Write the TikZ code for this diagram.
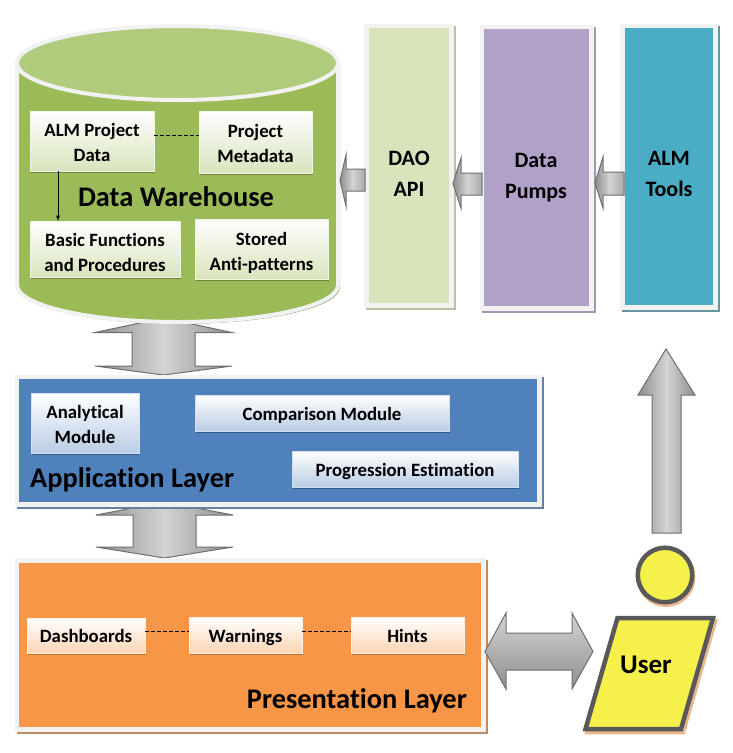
\documentclass[tikz,border=0pt]{standalone}
\usepackage{fontspec}
\setmainfont{Carlito}[BoldFont={Carlito Bold},Ligatures=NoCommon]
\usetikzlibrary{shadows}
\definecolor{cylgreen}{HTML}{9BBB59}
\definecolor{cyltop}{HTML}{B0CB7B}
\definecolor{paledge}{HTML}{F2F2F2}
\definecolor{daofill}{HTML}{D8E4BC}
\definecolor{pumpfill}{HTML}{B1A0C7}
\definecolor{almfill}{HTML}{4BACC6}
\definecolor{appfill}{HTML}{4F81BD}
\definecolor{presfill}{HTML}{F79646}
\definecolor{useryellow}{HTML}{F5F04A}
\definecolor{arrowedge}{HTML}{6E6E6E}
\definecolor{arrowdark}{HTML}{8E8E8E}
\definecolor{arrowlight}{HTML}{D4D4D4}
\definecolor{arrowmid}{HTML}{A8A8A8}
\definecolor{usershadow}{HTML}{E9B78E}
\def\bxoff{2}
\newcommand{\bx}[7]{%
  \pgfmathsetmacro{\bxw}{#4-#2}\pgfmathsetmacro{\bxh}{#5-#3}%
  \pgfmathsetmacro{\bxx}{(#2+#4)/2}\pgfmathsetmacro{\bxy}{(#3+#5)/2}%
  \pgfmathsetmacro{\bxt}{\bxy+\bxoff}%
  \node[#6,minimum width=\bxw pt,minimum height=\bxh pt] (#1) at (\bxx,\bxy) {};
  \node[boxtext] (#1t) at (\bxx,\bxt) {#7};}
\tikzset{
  x=1pt,y=-1pt,
  basebox/.style={rectangle,inner sep=0pt,outer sep=0pt},
  boxtext/.style={inner sep=0pt,align=center,font=\bfseries\fontsize{18.8}{25}\selectfont,
    execute at begin node=\strut,execute at end node=\strut},
  panel/.style={basebox,fill=#1,draw=paledge,line width=4.5pt},
  panelshadow/.style={general shadow={shadow xshift=2pt,shadow yshift=-2pt,fill=#1,draw=#1,line width=4.5pt}},
  greenbox/.style={basebox,draw=white!85!cylgreen,line width=.8pt,top color=white,bottom color=daofill,
    general shadow={shadow xshift=1pt,shadow yshift=-2pt,fill=cylgreen!70!black}},
  bluebox/.style={basebox,draw=appfill!25!white,line width=.8pt,top color=white,bottom color=appfill!40!white,
    general shadow={shadow xshift=1pt,shadow yshift=-2pt,fill=appfill!70!black}},
  orangebox/.style={basebox,draw=presfill!15!white,line width=.8pt,top color=white,bottom color=presfill!40!white,
    general shadow={shadow xshift=1pt,shadow yshift=-2pt,fill=presfill!75!black}},
  bigtext/.style={inner sep=0pt,font=\bfseries\fontsize{28.4}{32}\selectfont},
  usertext/.style={inner sep=0pt,font=\bfseries\fontsize{27}{32}\selectfont},
  tall/.style={inner sep=0pt,align=center,font=\bfseries\fontsize{22}{31}\selectfont},
  linkline/.style={black,line width=.7pt,dash pattern=on 3.5pt off 2.5pt},
  vgrad/.style={draw=arrowedge,line width=1pt,left color=arrowdark,right color=arrowdark,middle color=arrowlight},
  hgrad/.style={draw=arrowedge,line width=1pt,top color=arrowlight,bottom color=arrowdark},
  smallgrad/.style={draw=arrowedge,line width=1pt,left color=arrowdark,right color=arrowmid,middle color=arrowlight},
}
\begin{document}
\begin{tikzpicture}
\useasboundingbox (0,0) rectangle (733,753);
% arrows that pass behind their layers
\path[vgrad] (163.5,318) -- (232,332.5) -- (195,332.5) -- (195,366) -- (232,366) -- (163.5,375) -- (95,366) -- (132,366) -- (132,332.5) -- (95,332.5) -- cycle;
\path[vgrad] (164.5,502) -- (233,515) -- (196,515) -- (196,547) -- (233,547) -- (164.5,558) -- (96,547) -- (133,547) -- (133,515) -- (96,515) -- cycle;
% cylinder
\path[fill=cylgreen!55!gray] (19,65) -- (19,287) arc[start angle=180,end angle=0,x radius=160.5,y radius=37] -- (340,65) -- cycle;
\path[fill=cylgreen,draw=paledge,line width=4pt] (17,63) -- (17,285) arc[start angle=180,end angle=0,x radius=160.5,y radius=37] -- (338,63) -- cycle;
\path[fill=cyltop,draw=paledge,line width=4pt] (177.5,63) ellipse[x radius=160.5,y radius=37];
% right columns
\bx{dao}{366.5}{26}{451.5}{305.5}{panel=daofill,panelshadow=daofill!65!gray}{}
\bx{pumps}{482}{27}{591.5}{308.5}{panel=pumpfill,panelshadow=pumpfill!70!gray}{}
\bx{tools}{622.5}{26}{715.5}{307.5}{panel=almfill,panelshadow=almfill!45!gray}{}
\node[tall] (daolabel) at (409,174) {DAO\\API};
\node[tall] (pumpslabel) at (536,178) {Data\\Pumps};
\node[tall] (toolslabel) at (669,174) {ALM\\Tools};
% warehouse contents
\def\bxoff{5.5}
\bx{alm}{30}{111}{154}{171}{greenbox}{ALM Project\\Data}
\bx{meta}{199}{111}{312}{173}{greenbox}{Project\\Metadata}
\def\bxoff{7}
\bx{basic}{30}{221}{180}{277}{greenbox}{Basic Functions\\and Procedures}
\def\bxoff{6}
\bx{stored}{195}{219}{328}{279}{greenbox}{Stored\\Anti-patterns}
\node[bigtext] (dw) at (176,197) {Data Warehouse};
\draw[linkline] ([yshift=6pt]alm.east) -- ([yshift=7pt]meta.west);
\draw[black,line width=.9pt,-latex] ([xshift=-34pt]alm.south) -- ([xshift=-47pt]basic.north);
% application layer
\bx{app}{17}{377}{539.5}{504.5}{panel=appfill,panelshadow=appfill!55!gray}{}
\def\bxoff{5}
\bx{ana}{31}{393}{139}{453}{bluebox}{Analytical\\Module}
\def\bxoff{2}
\bx{comp}{195}{395}{449}{431}{bluebox}{Comparison Module}
\bx{prog}{292}{451}{518}{487}{bluebox}{Progression Estimation}
\node[bigtext,anchor=west] (applabel) at (30,480) {Application Layer};
% presentation layer
\bx{pres}{17}{560.5}{483.5}{729.5}{panel=presfill,panelshadow=presfill!50!gray}{}
\bx{dash}{27}{618}{145}{653}{orangebox}{Dashboards}
\bx{warn}{189}{617}{302}{653}{orangebox}{Warnings}
\bx{hints}{351}{617}{464}{653}{orangebox}{Hints}
\node[bigtext,anchor=east] (preslabel) at (467,701) {Presentation Layer};
\draw[linkline] ([yshift=4.5pt]dash.east) -- ([yshift=4pt]warn.west);
\draw[linkline] ([yshift=4pt]warn.east) -- ([yshift=4pt]hints.west);
% user
\draw[fill=usershadow,draw=usershadow,line width=4.5pt] (619.5,621) -- (715,621) -- (683,732) -- (587.5,732) -- cycle;
\draw[fill=useryellow,draw=black!65,line width=4.5pt] (617.5,618) -- (713,618) -- (681,729) -- (585.5,729) -- cycle;
\node[usertext] (user) at (646,665) {User};
\node[circle,minimum size=54.5pt,inner sep=0pt,fill=useryellow,draw=black!65,line width=4.5pt,
  general shadow={shadow xshift=1pt,shadow yshift=-2.5pt,fill=usershadow,draw=usershadow,line width=4.5pt}] (head) at (665,575) {};
% remaining block arrows
\path[hgrad] (485,651.5) -- (506,613) -- (506,633) -- (572,633) -- (572,613) -- (593,651.5) -- (572,689) -- (572,670) -- (506,670) -- (506,689) -- cycle;
\path[vgrad] (666,349) -- (695,395) -- (681,395) -- (681,533) -- (652,533) -- (652,395) -- (638,395) -- cycle;
\path[smallgrad] (340,180.5) -- (346,155) -- (346,169) -- (365,169) -- (365,191) -- (346,191) -- (346,206) -- cycle;
\path[smallgrad] (453,183.5) -- (461,158) -- (461,173) -- (482,173) -- (482,195) -- (461,195) -- (461,208) -- cycle;
\path[smallgrad] (595,183) -- (603,157) -- (603,172) -- (624,172) -- (624,195) -- (603,195) -- (603,208) -- cycle;
\end{tikzpicture}
\end{document}
